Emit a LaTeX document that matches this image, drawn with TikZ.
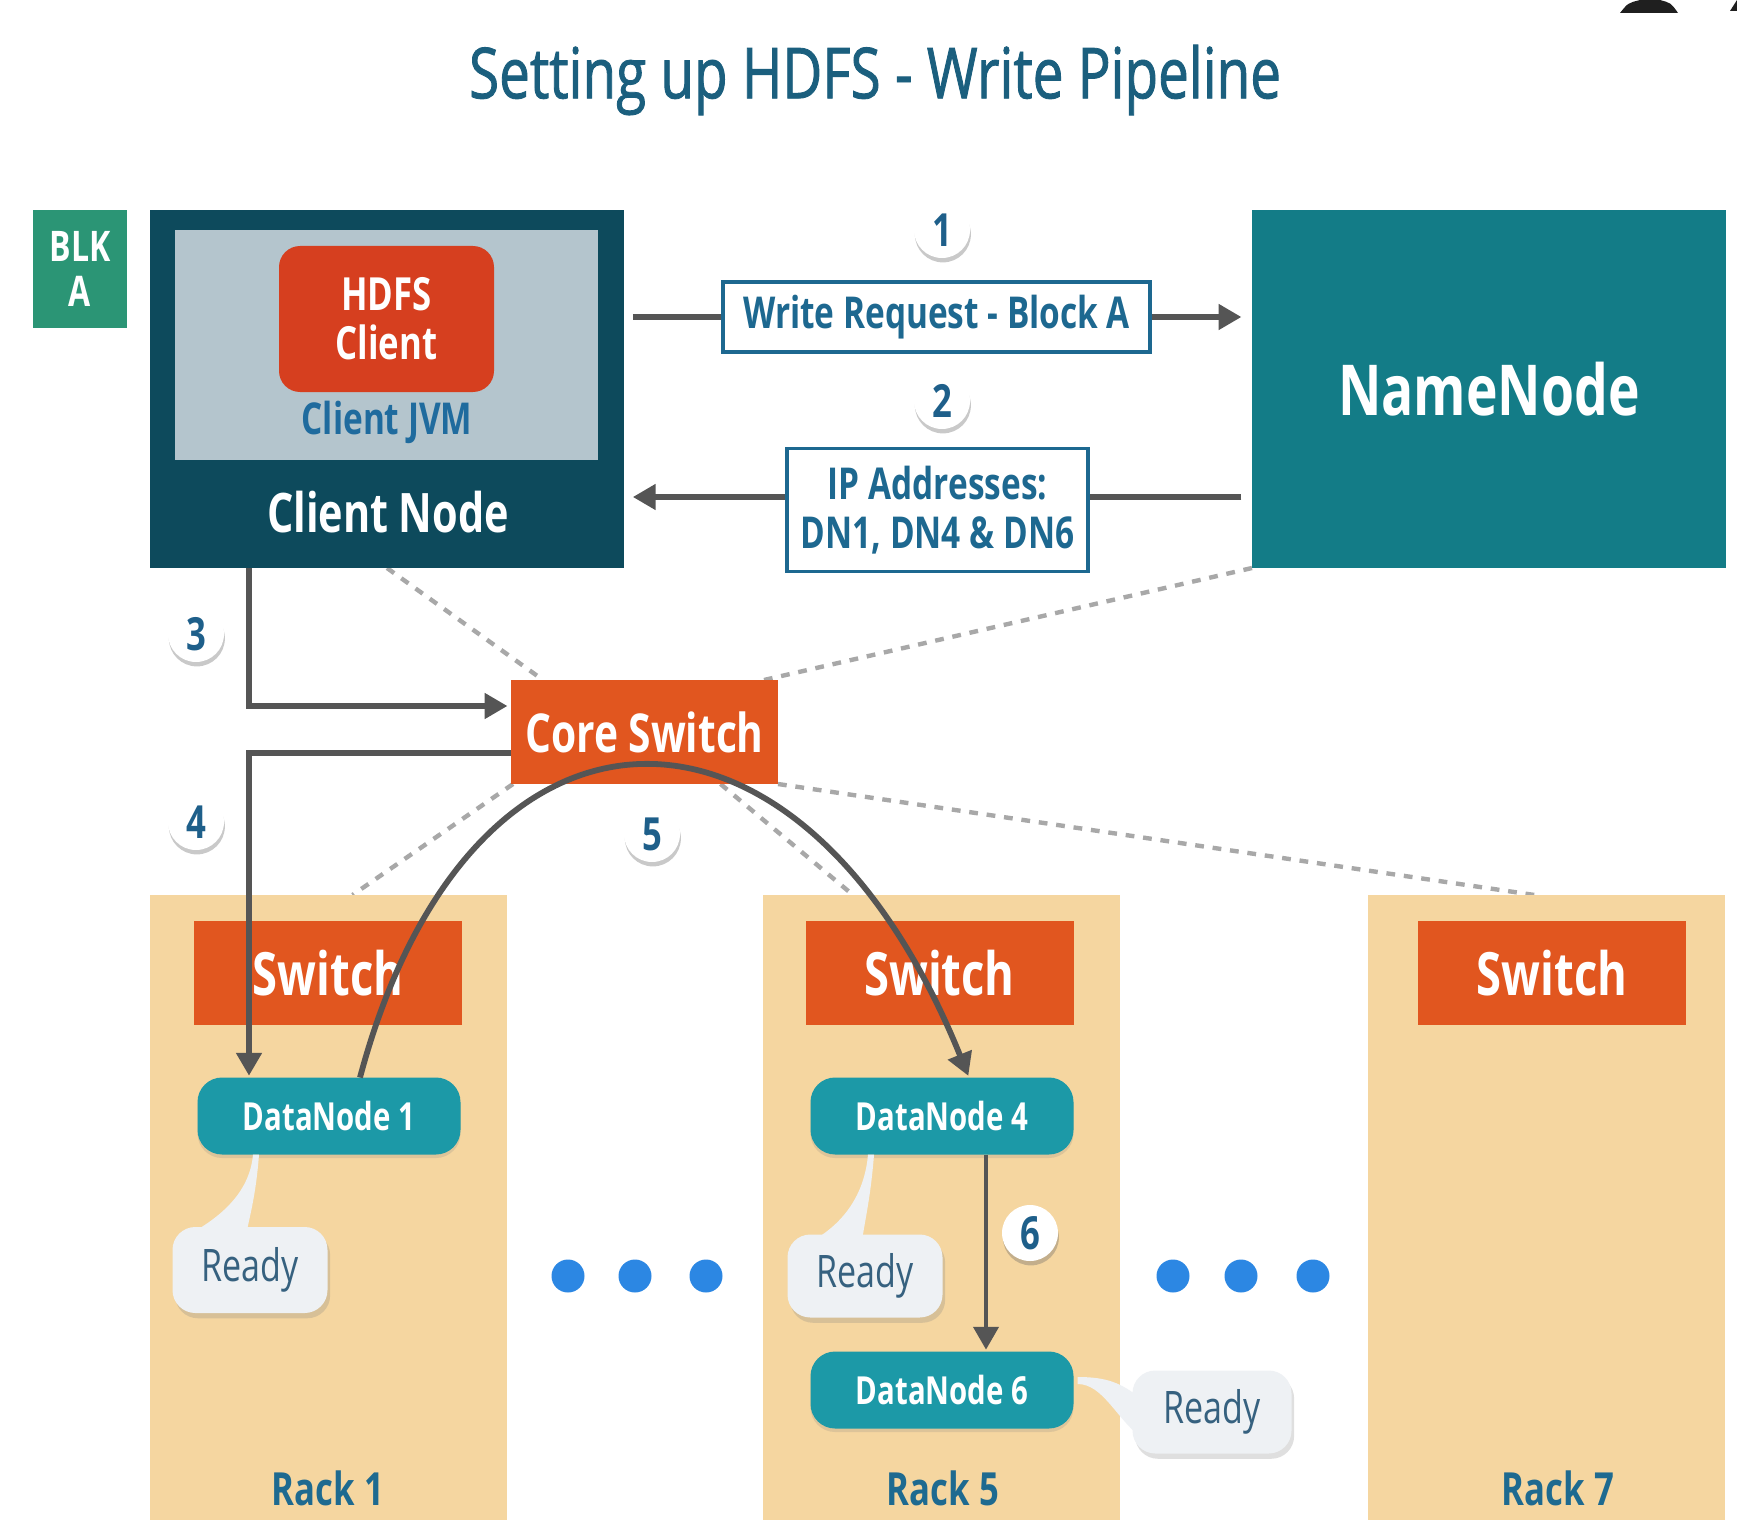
\documentclass[tikz,border=0pt]{standalone}
\usepackage{fontspec}
\setmainfont{Open Sans}[FakeStretch=0.76]
\newfontfamily\headfont{Open Sans}[FakeStretch=0.78, FakeBold=1.2]
\usetikzlibrary{calc,shadows,arrows.meta}

\definecolor{titleblue}{HTML}{1B5F7E}
\definecolor{clientdark}{HTML}{0D4A5C}
\definecolor{jvmgrey}{HTML}{B4C5CD}
\definecolor{hdfsred}{HTML}{D63F1F}
\definecolor{jvmtext}{HTML}{1F6B9E}
\definecolor{nameteal}{HTML}{137C87}
\definecolor{blkgreen}{HTML}{2B9575}
\definecolor{labelblue}{HTML}{1D6890}
\definecolor{switchorange}{HTML}{E1561F}
\definecolor{rackbeige}{HTML}{F5D6A0}
\definecolor{dnteal}{HTML}{1C99A7}
\definecolor{readytext}{HTML}{36617F}
\definecolor{bubblefill}{HTML}{EEF1F4}
\definecolor{racktext}{HTML}{1E6A90}
\definecolor{numblue}{HTML}{1E5F8A}
\definecolor{dotblue}{HTML}{2C87E3}
\definecolor{flowgrey}{HTML}{555555}
\definecolor{linkgrey}{HTML}{A8A8A8}

\pgfdeclarelayer{backdrop}
\pgfdeclarelayer{links}
\pgfsetlayers{backdrop,links,main}

\newcommand\fsz[2]{\fontsize{#1}{#2}\selectfont}

\begin{document}
\begin{tikzpicture}[x=0.02cm,y=-0.02cm,
  sz/.style 2 args={minimum width=#1*0.02cm, minimum height=#2*0.02cm},
  blk/.style={rectangle, inner sep=0pt, outer sep=0pt},
  flow/.style={draw=flowgrey, line width=3.3pt, -{Triangle[length=13pt,width=14pt]}},
  link/.style={draw=linkgrey, line width=2.5pt, dash pattern=on 5pt off 5pt},
  numc/.style={circle, fill=white, minimum size=56*0.02cm, inner sep=0pt, text=numblue,
    font=\bfseries\fsz{26}{26},
    drop shadow={shadow xshift=0.5pt, shadow yshift=-2.5pt, opacity=0.35, fill=black!60}},
  msg/.style={blk, fill=white, draw=labelblue, line width=2pt, text=labelblue,
    font=\bfseries\fsz{25}{28}, align=center},
  sw/.style={blk, fill=switchorange, text=white, font=\bfseries\fsz{34}{34}, sz={268}{104}},
  rack/.style={blk, fill=rackbeige, sz={357}{625}},
  dn/.style={blk, fill=dnteal, rounded corners=14pt, text=white, font=\bfseries\fsz{22}{22},
    sz={263}{77}, drop shadow={shadow xshift=0pt, shadow yshift=-2pt, opacity=0.2}},
  ready/.style={blk, fill=bubblefill, rounded corners=13pt, text=readytext, font=\fsz{25.5}{26},
    drop shadow={shadow xshift=1.5pt, shadow yshift=-3pt, opacity=0.25}},
  dot/.style={circle, fill=dotblue, minimum size=33*0.02cm, inner sep=0pt},
  racklbl/.style={text=racktext, font=\bfseries\fsz{26}{26}},
]
\begin{pgfonlayer}{backdrop}
  \fill[white] (0,0) rectangle (1737,1520);
\end{pgfonlayer}
\useasboundingbox (0,0) rectangle (1737,1520);

% title
\node[text=titleblue, font=\headfont\fsz{40}{40}] (title) at (875,80) {Setting up HDFS - Write Pipeline};

% clipped icon at the top edge
\fill[black!88] (1620,13) .. controls (1628,3) .. (1640,0) -- (1660,0) .. controls (1671,3) .. (1678,13) -- cycle;
\fill[black!88] (1730,11) -- (1737,0) -- (1737,11) -- cycle;

% block to be written
\node[blk, fill=blkgreen, sz={94}{118}, text=white, font=\bfseries\fsz{24}{26}, align=center] (blk) at (80,269) {BLK\\A};

% client node
\node[blk, fill=clientdark, sz={474}{358}] (client) at (387,389) {};
\node[blk, fill=jvmgrey, sz={423}{230}] (jvm) at (386.5,345) {};
\node[blk, fill=hdfsred, rounded corners=12pt, sz={215}{146}, text=white,
      font=\bfseries\fsz{26}{28}, align=center] (hdfs) at (386.5,319) {HDFS\\Client};
\node[text=jvmtext, font=\bfseries\fsz{25}{25}] (jvmlbl) at (387,422) {Client JVM};
\node[text=white, font=\bfseries\fsz{31}{31}] (clientlbl) at (388,512) {Client Node};

% name node
\node[blk, fill=nameteal, sz={474}{358}, text=white, font=\bfseries\fsz{40}{40}] (nn) at (1489,389) {NameNode};

% request / reply
\draw[flow, shorten <=5pt, shorten >=6pt] ($(client.east)+(0,-72)$) -- ($(nn.west)+(0,-72)$);
\node[msg, sz={427}{70}] (req) at (936.5,317) {Write Request - Block A};
\draw[flow, shorten <=6pt, shorten >=5pt] ($(nn.west)+(0,108)$) -- ($(client.east)+(0,108)$);
\node[msg, sz={301}{123}] (ips) at (937.5,510) {IP Addresses:\\DN1, DN4 \& DN6};
\node[numc] (n1) at (942,230) {1};
\node[numc] (n2) at (942,401) {2};

% core switch
\node[blk, fill=switchorange, sz={267}{104}, text=white, font=\bfseries\fsz{30.5}{31}] (core) at (644.5,732) {Core Switch};

% racks
\node[rack] (rack1) at (328.5,1207.5) {};
\node[rack] (rack5) at (941,1207.5) {};
\node[rack] (rack7) at (1546.5,1207.5) {};
\node[sw] (sw1) at (328,973) {Switch};
\node[sw] (sw5) at (939.5,973) {Switch};
\node[sw] (sw7) at (1552,973) {Switch};
\node[dn] (dn1) at (329,1116) {DataNode 1};
\node[dn] (dn4) at (942,1116) {DataNode 4};
\node[dn] (dn6) at (942,1390) {DataNode 6};
\node[racklbl] (lr1) at (328,1488) {Rack 1};
\node[racklbl] (lr5) at (943,1488) {Rack 5};
\node[racklbl] (lr7) at (1558,1488) {Rack 7};

% network links
\begin{pgfonlayer}{links}
  \draw[link] (client.south) -- ($(core.north west)+(32,0)$);
  \draw[link] (nn.south west) -- ($(core.north east)+(-14,0)$);
  \draw[link] ($(core.south west)+(2,0)$) -- ($(rack1.north)+(24,0)$);
  \draw[link] ($(core.south)+(76,0)$) -- ($(rack5.north)+(-88,0)$);
  \draw[link] (core.south east) -- ($(rack7.north)+(-12,0)$);
\end{pgfonlayer}

% pipeline set-up
\draw[flow, shorten >=2pt] ($(client.south west)+(99,0)$) |- ($(core.west)+(0,-26)$);
\draw[flow, shorten >=1pt] ($(core.west)+(0,21)$) -| ($(dn1.north)+(-80,0)$);
\draw[flow, shorten >=1pt] ($(dn1.north)+(31,0)$) .. controls +(110,-412) and +(-169,-417) .. ($(dn4.north)+(27,0)$);
\draw[flow, line width=2.8pt, shorten >=1pt] ($(dn4.south)+(44,0)$) -- ($(dn6.north)+(44,0)$);

\node[numc] (n3) at (196,634) {3};
\node[numc] (n4) at (196,822) {4};
\node[numc] (n5) at (652,834) {5};
\node[numc] (n6) at (1030,1233) {6};

% acknowledgements
\node[ready, sz={155}{86}] (rd1) at (250,1270) {Ready};
\node[ready, sz={155}{83}] (rd2) at (865,1276) {Ready};
\node[ready, sz={159}{83}] (rd3) at (1212,1412) {Ready};
\fill[bubblefill] ($(rd1.north)+(-62,8)$) .. controls +(37,-20) and +(-3,35) .. ($(dn1.south)+(-76,0)$)
  -- ($(dn1.south)+(-70,0)$) .. controls +(-3,40) and +(4,-20) .. ($(rd1.north)+(-4,8)$) -- cycle;
\fill[bubblefill] ($(rd2.north)+(-52,6)$) .. controls +(35,-20) and +(-3,35) .. ($(dn4.south)+(-74,0)$)
  -- ($(dn4.south)+(-68,0)$) .. controls +(-3,40) and +(3,-20) .. ($(rd2.north)+(-3,6)$) -- cycle;
\fill[bubblefill] ($(dn6.east)+(4,-13)$) .. controls +(30,0) and +(-20,-15) .. ($(rd3.west)+(8,-14)$)
  -- ($(rd3.west)+(8,25)$) .. controls +(-25,-20) and +(25,0) .. ($(dn6.east)+(4,-6)$) -- cycle;

% further racks
\node[dot] (d1) at (568,1276) {};
\node[dot] (d2) at (635,1276) {};
\node[dot] (d3) at (706,1276) {};
\node[dot] (d4) at (1173,1276) {};
\node[dot] (d5) at (1241,1276) {};
\node[dot] (d6) at (1313,1276) {};
\end{tikzpicture}
\end{document}
